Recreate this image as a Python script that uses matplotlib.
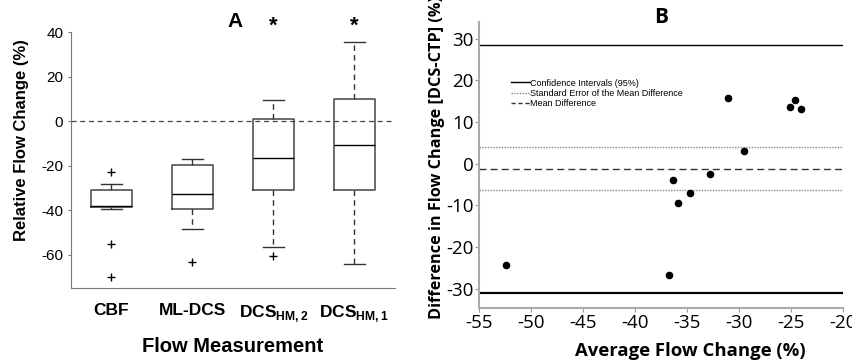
import matplotlib.pyplot as plt
import matplotlib.lines as mlines

# panel A: box plot summaries
groups = ['CBF', 'ML-DCS', 'DCS$_{\\mathregular{HM,2}}$', 'DCS$_{\\mathregular{HM,1}}$']
whisker_hi = [-28.1, -17.1, 9.3, 35.6]
q3 = [-30.8, -19.5, 0.75, 9.9]
median = [-38.2, -32.9, -16.4, -10.7]
q1 = [-38.7, -39.4, -30.8, -30.8]
whisker_lo = [-39.4, -48.6, -56.7, -64.0]
outliers = [[-23.0, -55.2, -69.9], [-63.4], [-60.7], []]
signif = [False, False, True, True]

# panel B: Bland-Altman
avg_change = [-52.4, -36.7, -36.3, -35.9, -34.7, -32.8, -31.1, -29.5, -25.1, -24.6, -24.0]
diff_change = [-24.2, -26.8, -3.8, -9.5, -7.1, -2.4, 15.7, 3.1, 13.7, 15.4, 13.2]
ci_upper, ci_lower = 28.6, -31.0
se_upper, se_lower = 4.1, -6.4
mean_diff = -1.3
x_ticks_b = [-55, -50, -45, -40, -35, -30, -25, -20]
y_ticks_b = [-30, -20, -10, 0, 10, 20, 30]

plt.rcParams['font.family'] = ['Liberation Sans', 'DejaVu Sans']
plt.rcParams['axes.unicode_minus'] = False

fig = plt.figure(figsize=(8.53, 3.64), dpi=100)

# ---- A ----
ax = fig.add_axes([0.0832, 0.2088, 0.3798, 0.703])
stats = []
for i in range(len(groups)):
    stats.append({'whislo': whisker_lo[i], 'q1': q1[i], 'med': median[i], 'q3': q3[i],
                  'whishi': whisker_hi[i], 'fliers': outliers[i]})
ax.bxp(stats, positions=[1, 2, 3, 4], widths=0.5, showfliers=True,
       boxprops=dict(color='#444444', lw=1.1),
       medianprops=dict(color='black', lw=1.0),
       whiskerprops=dict(color='#333333', lw=1.0, ls=(0, (4, 3))),
       capprops=dict(color='#333333', lw=1.0),
       flierprops=dict(marker='+', markeredgecolor='black', markersize=6, markeredgewidth=1.0))
ax.axhline(0, color='#444444', lw=0.9, ls=(0, (4, 3)), zorder=0)
ax.set_xlim(0.5, 4.5)
ax.set_ylim(-75, 40)
ax.set_yticks([40, 20, 0, -20, -40, -60])
ax.set_xticks([1, 2, 3, 4])
ax.set_xticklabels(groups, fontsize=12.5, fontweight='bold')
ax.tick_params(axis='x', length=0, pad=11)
ax.tick_params(axis='y', labelsize=11, length=2, color='#777777')
for s in ['top', 'right']:
    ax.spines[s].set_visible(False)
for s in ['left', 'bottom']:
    ax.spines[s].set_color('#777777')
ax.set_ylabel('Relative Flow Change (%)', fontsize=12, fontweight='bold')
ax.yaxis.set_label_coords(-0.13, 0.578)
ax.set_xlabel('Flow Measurement', fontsize=14.5, fontweight='bold', labelpad=9)
ax.text(2.53, 44.6, 'A', fontsize=15, fontweight='bold', ha='center', va='center')
for i, s in enumerate(signif):
    if s:
        ax.text(i + 1, 42.5, '*', fontsize=16, fontweight='bold', ha='center', va='center')

# ---- B ----
bx = fig.add_axes([0.5615, 0.1538, 0.4267, 0.7857])
bx.scatter(avg_change, diff_change, s=20, color='black', zorder=3)
bx.axhline(ci_upper, color='black', lw=1.0)
bx.axhline(ci_lower, color='black', lw=1.6)
bx.axhline(se_upper, color='#888888', lw=1.0, ls=(0, (1, 1)))
bx.axhline(se_lower, color='#888888', lw=1.0, ls=(0, (1, 1)))
bx.axhline(mean_diff, color='#333333', lw=1.0, ls=(0, (5, 3)))
bx.set_xlim(-55, -20)
bx.set_ylim(-34.6, 34)
bx.set_xticks(x_ticks_b)
bx.set_xticklabels([str(v) for v in x_ticks_b], fontfamily='Open Sans', fontsize=13.5)
bx.set_yticks(y_ticks_b)
bx.set_yticklabels([str(v) for v in y_ticks_b], fontfamily='Open Sans', fontsize=13.5)
bx.tick_params(length=3, color='#999999', pad=1)
for s in ['top', 'right']:
    bx.spines[s].set_visible(False)
for s in ['left', 'bottom']:
    bx.spines[s].set_color('#aaaaaa')
    bx.spines[s].set_linewidth(1.5)
bx.set_ylabel('Difference in Flow Change [DCS-CTP] (%)', fontfamily='Open Sans',
              fontsize=11.7, fontweight='bold')
bx.yaxis.set_label_coords(-0.093, 0.528)
bx.set_xlabel('Average Flow Change (%)', fontfamily='Open Sans', fontsize=13.3,
              fontweight='bold')
bx.xaxis.set_label_coords(0.58, -0.12)
bx.text(0.5, 1.017, 'B', transform=bx.transAxes, fontfamily='Open Sans', fontsize=15,
        fontweight='bold', ha='center', va='center')

handles = [mlines.Line2D([], [], color='black', lw=1.0),
           mlines.Line2D([], [], color='#888888', lw=1.0, ls=(0, (1, 1))),
           mlines.Line2D([], [], color='#333333', lw=1.0, ls=(0, (3, 2)))]
bx.legend(handles, ['Confidence Intervals (95%)', 'Standard Error of the Mean Difference',
                    'Mean Difference'],
          loc='upper left', bbox_to_anchor=(0.077, 0.818), frameon=False, fontsize=6.5,
          handlelength=2.0, handletextpad=0.1, labelspacing=0.12, borderpad=0)

fig.savefig('out.png', dpi=100)
